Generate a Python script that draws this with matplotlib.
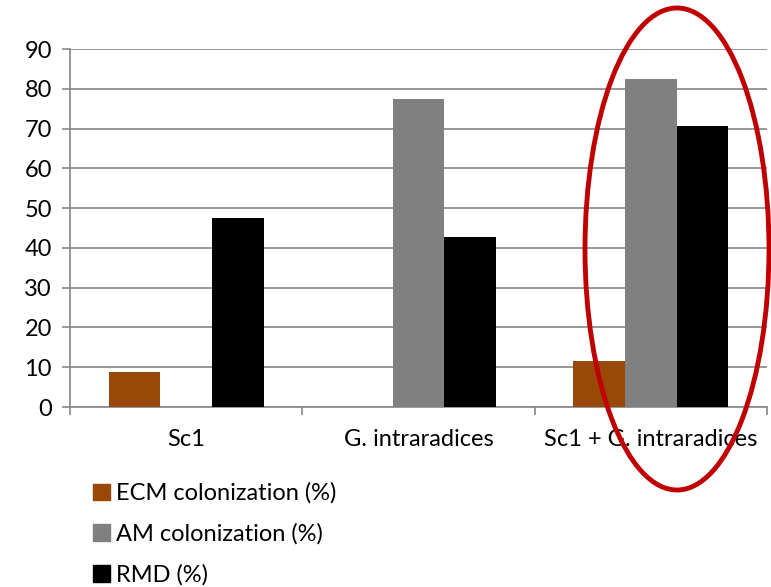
import matplotlib.pyplot as plt
import numpy as np
from matplotlib.patches import Ellipse, Patch

plt.rcParams['font.family'] = ['Lato', 'DejaVu Sans']

groups = ['Sc1', 'G. intraradices', 'Sc1 + G. intraradices']
series = ['ECM colonization (%)', 'AM colonization (%)', 'RMD (%)']
ecm = [8.8, 0, 11.5]
am = [0, 77.4, 82.4]
rmd = [47.5, 42.7, 70.7]
colors = ['#984807', '#808080', '#000000']

fig = plt.figure(figsize=(7.71, 5.87), dpi=100)
ax = fig.add_axes([70/771, 1-407/587, 697/771, 358/587])

x = np.arange(len(groups))
w = 1 / 4.5
for i, vals in enumerate([ecm, am, rmd]):
    ax.bar(x + (i - 1) * w, vals, w, color=colors[i], zorder=3)

ax.set_xlim(-0.5, 2.5)
ax.set_ylim(0, 90)
ax.set_yticks(range(0, 91, 10))
ax.yaxis.grid(True, color='#868686', linewidth=1.2, zorder=0)
ax.set_xticks(x)
ax.set_xticklabels(groups)
ax.set_xticks([-0.5, 0.5, 1.5, 2.5], minor=True)
ax.tick_params(axis='x', which='major', length=0, pad=16, labelsize=17)
ax.tick_params(axis='x', which='minor', length=6, color='#868686', width=1.2)
ax.tick_params(axis='y', length=6, color='#868686', width=1.2, labelsize=17, pad=7)
for s in ['top', 'right']:
    ax.spines[s].set_visible(False)
for s in ['left', 'bottom']:
    ax.spines[s].set_color('#868686')
    ax.spines[s].set_linewidth(1.2)

handles = [Patch(color=c) for c in colors]
fig.legend(handles, series, loc='upper left', bbox_to_anchor=(84/771, 1-473/587),
           frameon=False, fontsize=17, handlelength=0.68, handleheight=0.68,
           handletextpad=0.28, labelspacing=0.82, borderaxespad=0)

ell = Ellipse((677/771, 1-249/587), 184/771, 482/587, transform=fig.transFigure,
              fill=False, edgecolor='#C00000', linewidth=3.5)
fig.patches.append(ell)

fig.savefig('out.png', dpi=100)
